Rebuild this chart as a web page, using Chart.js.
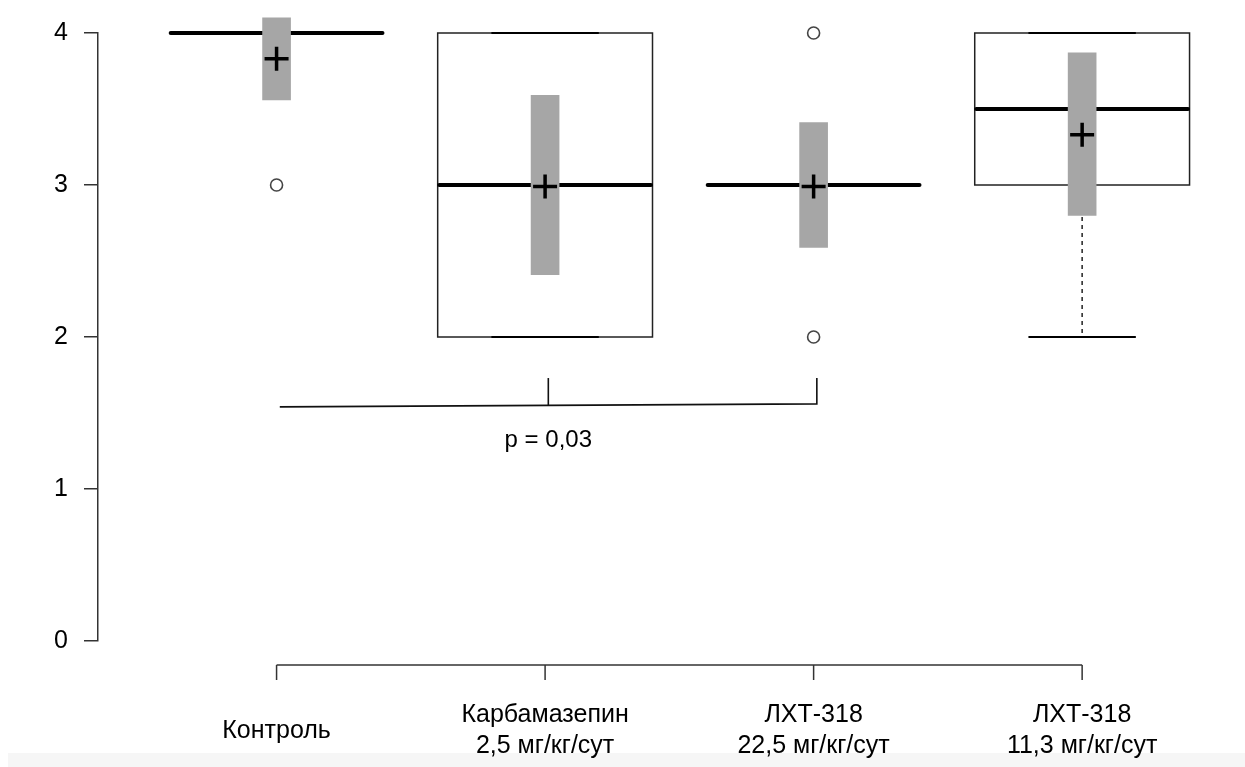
<!DOCTYPE html>
<html>
<head>
<meta charset="utf-8">
<script src="https://cdn.jsdelivr.net/npm/chart.js@4"></script>
<style>
  html, body { margin: 0; padding: 0; background: #fff; }
  canvas { display: block; }
</style>
</head>
<body>
<canvas id="boxChart" width="1245" height="767"></canvas>
<script>
// Groups and their box statistics
const categories = [
  ['Контроль'],
  ['Карбамазепин', '2,5 мг/кг/сут'],
  ['ЛХТ-318', '22,5 мг/кг/сут'],
  ['ЛХТ-318', '11,3 мг/кг/сут'],
];
const q1 = [4, 2, 3, 3];
const medians = [4, 3, 3, 3.5];
const q3 = [4, 4, 3, 4];
const whiskerLow = [4, 2, 3, 2];
const whiskerHigh = [4, 4, 3, 4];
const outliers = [[3], [], [4, 2], []];

// Mean and its confidence interval (grey bars)
const means = [3.83, 2.99, 2.99, 3.33];
const ciLow = [3.56, 2.41, 2.59, 2.80];
const ciHigh = [4.10, 3.59, 3.41, 3.87];

const yTicks = [0, 1, 2, 3, 4];

// Significance bracket between groups 1 and 3 (Контроль vs ЛХТ-318 22,5)
const bracketGroups = [0, 1, 2];
const bracketLevel = [1.54, 1.56];
const bracketTop = 1.73;
const pLabel = 'p = 0,03';
const pLabelLevel = 1.32;

const FONT = '"Liberation Sans", Arial, Helvetica, sans-serif';
const BOX_HALF = 0.4;
const STAPLE_HALF = 0.2;

function line(ctx, x1, y1, x2, y2) {
  ctx.beginPath();
  ctx.moveTo(x1, y1);
  ctx.lineTo(x2, y2);
  ctx.stroke();
}

// White page with the pale strip along the bottom edge
const background = {
  id: 'background',
  beforeDraw(chart) {
    const { ctx, width, height } = chart;
    ctx.save();
    ctx.fillStyle = '#fff';
    ctx.fillRect(0, 0, width, height);
    ctx.fillStyle = '#f6f6f6';
    ctx.fillRect(8, 753, width - 8, height - 753);
    ctx.restore();
  },
};

// Boxes, whiskers, staples and medians, under the grey mean bars
const boxes = {
  id: 'boxes',
  beforeDatasetsDraw(chart) {
    const { ctx, scales: { x, y } } = chart;
    ctx.save();
    categories.forEach((_, i) => {
      const xl = x.getPixelForValue(i - BOX_HALF);
      const xr = x.getPixelForValue(i + BOX_HALF);
      const xc = x.getPixelForValue(i);
      const sl = x.getPixelForValue(i - STAPLE_HALF);
      const sr = x.getPixelForValue(i + STAPLE_HALF);

      // dashed whiskers
      ctx.strokeStyle = '#222';
      ctx.lineWidth = 1.5;
      ctx.setLineDash([4, 4]);
      if (whiskerLow[i] < q1[i]) line(ctx, xc, y.getPixelForValue(q1[i]), xc, y.getPixelForValue(whiskerLow[i]));
      if (whiskerHigh[i] > q3[i]) line(ctx, xc, y.getPixelForValue(q3[i]), xc, y.getPixelForValue(whiskerHigh[i]));
      ctx.setLineDash([]);

      // box
      if (q3[i] > q1[i]) {
        ctx.strokeStyle = '#222';
        ctx.lineWidth = 1.5;
        ctx.strokeRect(xl, y.getPixelForValue(q3[i]), xr - xl, y.getPixelForValue(q1[i]) - y.getPixelForValue(q3[i]));
      }

      // staples
      ctx.strokeStyle = '#000';
      ctx.lineWidth = 1.8;
      line(ctx, sl, y.getPixelForValue(whiskerLow[i]), sr, y.getPixelForValue(whiskerLow[i]));
      line(ctx, sl, y.getPixelForValue(whiskerHigh[i]), sr, y.getPixelForValue(whiskerHigh[i]));

      // median
      ctx.strokeStyle = '#000';
      ctx.lineWidth = 4;
      ctx.lineCap = 'round';
      line(ctx, xl + 1.5, y.getPixelForValue(medians[i]), xr - 1.5, y.getPixelForValue(medians[i]));
      ctx.lineCap = 'butt';
    });
    ctx.restore();
  },
};

// R-style x axis, group labels, significance bracket
const annotations = {
  id: 'annotations',
  afterDraw(chart) {
    const { ctx, chartArea, scales: { x, y } } = chart;
    const axisY = chartArea.bottom + 24;
    ctx.save();
    ctx.strokeStyle = '#333';
    ctx.lineWidth = 1.5;
    line(ctx, x.getPixelForValue(0), axisY, x.getPixelForValue(categories.length - 1), axisY);
    categories.forEach((_, i) => {
      const px = x.getPixelForValue(i);
      line(ctx, px, axisY, px, axisY + 15);
    });

    ctx.fillStyle = '#000';
    ctx.font = `25px ${FONT}`;
    ctx.textAlign = 'center';
    ctx.textBaseline = 'alphabetic';
    categories.forEach((lines, i) => {
      const px = x.getPixelForValue(i);
      lines.forEach((t, j) => {
        ctx.fillText(t, px, 737.5 + (j - (lines.length - 1) / 2) * 31);
      });
    });

    // bracket
    const [g0, g1, g2] = bracketGroups.map(g => x.getPixelForValue(g + 0.012));
    const yl = y.getPixelForValue(bracketLevel[0]);
    const yr = y.getPixelForValue(bracketLevel[1]);
    const yt = y.getPixelForValue(bracketTop);
    ctx.strokeStyle = '#111';
    ctx.lineWidth = 1.6;
    ctx.beginPath();
    ctx.moveTo(g0, yl);
    ctx.lineTo(g2, yr);
    ctx.lineTo(g2, yt);
    ctx.stroke();
    const ym = yl + (yr - yl) * (g1 - g0) / (g2 - g0);
    line(ctx, g1, ym, g1, yt);

    ctx.font = `24px ${FONT}`;
    ctx.textBaseline = 'middle';
    ctx.fillText(pLabel, g1, y.getPixelForValue(pLabelLevel));
    ctx.restore();
  },
};

new Chart(document.getElementById('boxChart'), {
  type: 'bar',
  data: {
    datasets: [
      {
        type: 'scatter',
        label: 'Mean',
        data: means.map((m, i) => ({ x: i, y: m })),
        pointStyle: 'cross',
        radius: 12,
        borderWidth: 3.5,
        borderColor: '#000',
        clip: false,
        order: 0,
      },
      {
        type: 'scatter',
        label: 'Outliers',
        data: outliers.flatMap((vals, i) => vals.map(v => ({ x: i, y: v }))),
        pointStyle: 'circle',
        radius: 6,
        borderWidth: 1.6,
        borderColor: '#444',
        backgroundColor: '#fff',
        clip: false,
        order: 1,
      },
      {
        label: 'CI',
        data: ciLow.map((lo, i) => ({ x: i, y: [lo, ciHigh[i]] })),
        backgroundColor: '#a6a6a6',
        borderWidth: 0,
        barThickness: 28,
        clip: false,
        order: 2,
      },
    ],
  },
  options: {
    responsive: false,
    animation: false,
    events: [],
    layout: { padding: { left: 0, top: 33, right: 28.6, bottom: 126 } },
    plugins: {
      legend: { display: false },
      tooltip: { enabled: false },
    },
    scales: {
      x: {
        type: 'linear',
        min: -0.665,
        max: 3.5,
        offset: false,
        display: false,
      },
      y: {
        min: 0,
        max: 4,
        afterBuildTicks: scale => { scale.ticks = yTicks.map(v => ({ value: v })); },
        afterFit: scale => { scale.width = 98; },
        grid: {
          drawOnChartArea: false,
          drawTicks: true,
          tickLength: 14,
          color: '#333',
          lineWidth: 1.5,
        },
        border: { display: true, color: '#333', width: 1.5 },
        ticks: {
          padding: 16,
          color: '#000',
          font: { family: FONT, size: 25 },
        },
      },
    },
  },
  plugins: [background, boxes, annotations],
});
</script>
</body>
</html>
